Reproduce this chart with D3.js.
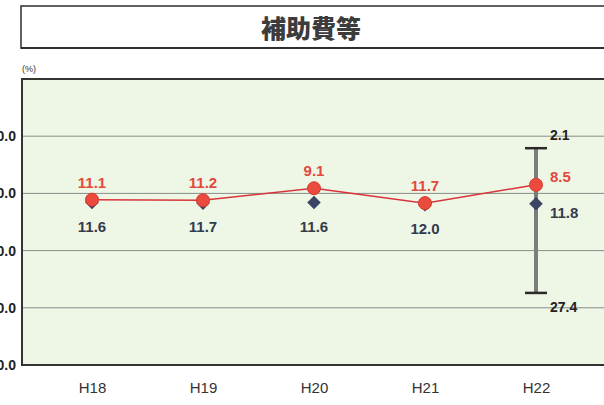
<!DOCTYPE html>
<html>
<head>
<meta charset="utf-8">
<script src="https://cdn.jsdelivr.net/npm/d3@7"></script>
<style>
  html, body { margin: 0; padding: 0; background: #ffffff; }
  svg { display: block; }
</style>
</head>
<body>
<svg id="chart" width="604" height="405"></svg>
<script>
// Fiscal years
const years = ["H18", "H19", "H20", "H21", "H22"];
// Ratio for this body (red line)
const ownValues = [11.1, 11.2, 9.1, 11.7, 8.5];
// Group average (navy diamonds)
const avgValues = [11.6, 11.7, 11.6, 12.0, 11.8];
// Range of the group in H22: min / max
const rangeYear = "H22";
const rangeMin = 2.1;
const rangeMax = 27.4;
// Y axis ticks (axis runs downward: smaller values at the top)
const yTicks = [0, 10, 20, 30, 40];
const yDomain = [-10, 40];

const svg = d3.select("#chart");

const plot = { left: 22, top: 79, right: 608, bottom: 365 };

// Title box
svg.append("rect")
  .attr("x", 21).attr("y", 6).attr("width", 600).attr("height", 42)
  .attr("fill", "#ffffff").attr("stroke", "#3a3a3a").attr("stroke-width", 1.6);
svg.append("line")
  .attr("x1", 21).attr("x2", 610).attr("y1", 48).attr("y2", 48)
  .attr("stroke", "#2e2e2e").attr("stroke-width", 2.2);
svg.append("text")
  .attr("x", 311).attr("y", 38)
  .attr("text-anchor", "middle")
  .attr("font-family", "'Noto Sans CJK JP', sans-serif")
  .attr("font-weight", "900")
  .attr("font-size", 25)
  .attr("fill", "#3c3c3c")
  .text("補助費等");

// Plot background
svg.append("rect")
  .attr("x", plot.left).attr("y", plot.top)
  .attr("width", plot.right - plot.left).attr("height", plot.bottom - plot.top)
  .attr("fill", "#eef6e6");

const y = d3.scaleLinear().domain(yDomain).range([plot.top, plot.bottom]);
const x = d3.scalePoint().domain(years).range([92, 536]);

// Gridlines
svg.append("g")
  .selectAll("line")
  .data(yTicks.filter(t => t !== yDomain[1]))
  .join("line")
  .attr("x1", plot.left).attr("x2", plot.right)
  .attr("y1", d => y(d)).attr("y2", d => y(d))
  .attr("stroke", "#888e86").attr("stroke-width", 1);

// Y axis with labels on the left
const yAxis = d3.axisLeft(y)
  .tickValues(yTicks)
  .tickFormat(d3.format(".1f"))
  .tickSize(0)
  .tickPadding(6);
const gy = svg.append("g")
  .attr("transform", `translate(${plot.left},0)`)
  .call(yAxis);
gy.select(".domain").remove();
gy.selectAll("text")
  .attr("font-family", "'Liberation Sans', Arial, sans-serif")
  .attr("font-weight", "bold")
  .attr("font-size", 14)
  .attr("fill", "#222222");

// Plot frame: left, top, bottom
svg.append("path")
  .attr("d", `M${plot.right},${plot.top}H${plot.left}V${plot.bottom}H${plot.right}`)
  .attr("fill", "none").attr("stroke", "#333333").attr("stroke-width", 2);

// Unit label
svg.append("text")
  .attr("x", 22).attr("y", 72)
  .attr("font-family", "'Liberation Sans', Arial, sans-serif")
  .attr("font-size", 9)
  .attr("fill", "#333")
  .text("(%)");

// X axis
const xAxis = d3.axisBottom(x).tickSize(0).tickPadding(17);
const gx = svg.append("g")
  .attr("transform", `translate(0,${plot.bottom})`)
  .call(xAxis);
gx.select(".domain").remove();
gx.selectAll("text")
  .attr("font-family", "'Liberation Sans Narrow', 'Liberation Sans', Arial, sans-serif")
  .attr("font-size", 15)
  .attr("fill", "#333333");

// Range bar for H22
const rx = x(rangeYear);
svg.append("line")
  .attr("x1", rx).attr("x2", rx)
  .attr("y1", y(rangeMin)).attr("y2", y(rangeMax))
  .attr("stroke", "#7a7d7a").attr("stroke-width", 4);
[rangeMin, rangeMax].forEach(v => {
  svg.append("line")
    .attr("x1", rx - 11).attr("x2", rx + 11)
    .attr("y1", y(v)).attr("y2", y(v))
    .attr("stroke", "#2a2a2a").attr("stroke-width", 2.5);
});

// Red line
const line = d3.line().x((d, i) => x(years[i])).y(d => y(d));
svg.append("path")
  .datum(ownValues)
  .attr("d", line)
  .attr("fill", "none")
  .attr("stroke", "#d8343a")
  .attr("stroke-width", 1.5);

// Average diamonds (squares turned 45 degrees)
svg.append("g")
  .selectAll("path")
  .data(avgValues)
  .join("path")
  .attr("d", d3.symbol(d3.symbolSquare, 92))
  .attr("transform", (d, i) => `translate(${x(years[i])},${y(d)}) rotate(45)`)
  .attr("fill", "#3b4563");

// Own value circles
svg.append("g")
  .selectAll("circle")
  .data(ownValues)
  .join("circle")
  .attr("cx", (d, i) => x(years[i]))
  .attr("cy", d => y(d))
  .attr("r", 6.5)
  .attr("fill", "#ec4a3c")
  .attr("stroke", "#d23a30")
  .attr("stroke-width", 1);

const labelFont = "'Liberation Sans', Arial, sans-serif";
const fmt = d3.format(".1f");
const last = years.length - 1;

// Red value labels
svg.append("g")
  .selectAll("text")
  .data(ownValues)
  .join("text")
  .attr("x", (d, i) => i === last ? x(years[i]) + 14 : x(years[i]))
  .attr("y", (d, i) => i === last ? y(d) - 3 : y(d) - 12)
  .attr("text-anchor", (d, i) => i === last ? "start" : "middle")
  .attr("font-family", labelFont)
  .attr("font-weight", "bold")
  .attr("font-size", 15)
  .attr("fill", "#e2483c")
  .text(d => fmt(d));

// Average value labels
svg.append("g")
  .selectAll("text")
  .data(avgValues)
  .join("text")
  .attr("x", (d, i) => i === last ? x(years[i]) + 14 : x(years[i]))
  .attr("y", (d, i) => i === last ? y(d) + 14 : y(d) + 29)
  .attr("text-anchor", (d, i) => i === last ? "start" : "middle")
  .attr("font-family", labelFont)
  .attr("font-weight", "bold")
  .attr("font-size", 15)
  .attr("fill", "#333a4c")
  .text(d => fmt(d));

// Range labels
[[rangeMin, -8], [rangeMax, 19]].forEach(([v, dy]) => {
  svg.append("text")
    .attr("x", rx + 14).attr("y", y(v) + dy)
    .attr("font-family", labelFont)
    .attr("font-weight", "bold")
    .attr("font-size", 14)
    .attr("fill", "#222222")
    .text(fmt(v));
});
</script>
</body>
</html>
